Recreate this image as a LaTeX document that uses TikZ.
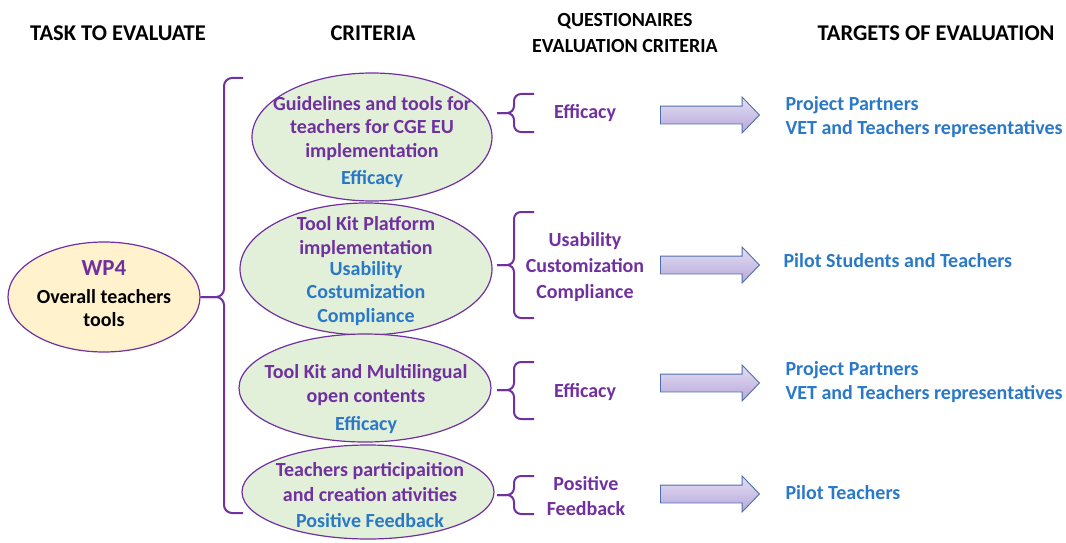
\documentclass[tikz,border=0pt]{standalone}
\usepackage{fontspec}
\setmainfont{Carlito}
\usetikzlibrary{positioning,shapes.geometric,shapes.arrows}
\definecolor{critpurple}{HTML}{7030A0}
\definecolor{critblue}{HTML}{2A78C8}
\definecolor{critgreen}{HTML}{E2EFD9}
\definecolor{taskyellow}{HTML}{FFF2CC}
\definecolor{arrowtop}{HTML}{E4DEF3}
\definecolor{arrowbottom}{HTML}{B6A8DA}
\definecolor{arrowedge}{HTML}{4F6FAA}

\begin{document}
\begin{tikzpicture}[x=1pt,y=-1pt,
        font=\bfseries\fontsize{20}{23.5}\selectfont,
        head/.style={font=\bfseries\fontsize{22.5}{26}\selectfont,align=center},
        task/.style={ellipse,draw=critpurple,line width=1.2pt,fill=taskyellow,minimum width=192,minimum height=110},
        crit/.style={ellipse,draw=critpurple,line width=1.2pt,fill=critgreen,minimum width=252},
        ptxt/.style={text=critpurple,align=center},
        target/.style={text=critblue,align=left,anchor=west},
        brc/.style={draw=critpurple,line width=2pt,rounded corners=7pt},
        blockarrow/.style={single arrow,draw=arrowedge,line width=0.9pt,top color=arrowtop,bottom color=arrowbottom,
            minimum height=99,inner xsep=0pt,inner ysep=8.5pt,single arrow head extend=9pt,single arrow tip angle=92,anchor=tail}]
        \useasboundingbox (0,0) rectangle (1066,543);

        % column titles
        \node[head] (htask) at (118,33) {TASK TO EVALUATE};
        \node[head] (hcrit) at (373,33) {CRITERIA};
        \node[head,font=\bfseries\fontsize{20}{26}\selectfont] (hquest) at (625,33) {QUESTIONAIRES\\EVALUATION CRITERIA};
        \node[head] (htarget) at (936,33) {TARGETS OF EVALUATION};

        % work package
        \node[task] (wp) at (104,297) {};
        \node[align=center] (wptext) at (104,294) {\textcolor{critpurple}{\fontsize{23}{23.5}\selectfont WP4}\\[4pt]Overall teachers\\tools};

        % criteria ellipses
        \node[crit,minimum width=240,minimum height=128] (e1) at (372,137) {};
        \node[crit,minimum height=132] (e2) at (366,269) {};
        \node[crit,minimum height=108] (e3) at (365,388) {};
        \node[crit,minimum height=94] (e4) at (368,492) {};
        \node[ptxt] (c1) at (372,142) {Guidelines and tools for\\teachers for CGE EU\\implementation\\[3.5pt]\textcolor{critblue}{Efficacy}};
        \node[ptxt] (c2) at (366,271) {Tool Kit Platform\\implementation\\[-2.5pt]\textcolor{critblue}{Usability}\\\textcolor{critblue}{Costumization}\\\textcolor{critblue}{Compliance}};
        \node[ptxt] (c3) at (366,399) {Tool Kit and Multilingual\\open contents\\[4.5pt]\textcolor{critblue}{Efficacy}};
        \node[ptxt] (c4) at (370,495) {Teachers participaition\\[1.5pt]and creation ativities\\[2pt]\textcolor{critblue}{Positive Feedback}};

        % big bracket from the task to the criteria
        \draw[brc,rounded corners=8pt] (243,78) -| (224,297) -- (wp.east);
        \draw[brc,rounded corners=8pt] (243,513) -| (224,297) -- (wp.east);

        % questionnaire criteria
        \node[ptxt] (q1) at (585,113) {Efficacy};
        \node[ptxt,font=\bfseries\fontsize{20}{26}\selectfont] (q2) at (585,267) {Usability\\Customization\\Compliance};
        \node[ptxt] (q3) at (585,392) {Efficacy};
        \node[ptxt,font=\bfseries\fontsize{20}{25}\selectfont] (q4) at (586,496) {Positive\\Feedback};

        \foreach \t/\m/\b in {94/113/132,212/265/318,362/390/419,476/495/514} {
            \draw[brc] (534,\t) -| (514,\m) -- (497,\m);
            \draw[brc] (534,\b) -| (514,\m) -- (497,\m);
        }

        % arrows and targets
        \node[blockarrow] (a1) at (660,115) {};
        \node[blockarrow] (a2) at (660,265) {};
        \node[blockarrow] (a3) at (660,383) {};
        \node[blockarrow] (a4) at (660,494) {};

        \node[target] (t1) at (782,117) {Project Partners\\VET and Teachers representatives};
        \node[target] (t2) at (780,261) {Pilot Students and Teachers};
        \node[target] (t3) at (782,382) {Project Partners\\VET and Teachers representatives};
        \node[target] (t4) at (782,493) {Pilot Teachers};
    \end{tikzpicture}
\end{document}
